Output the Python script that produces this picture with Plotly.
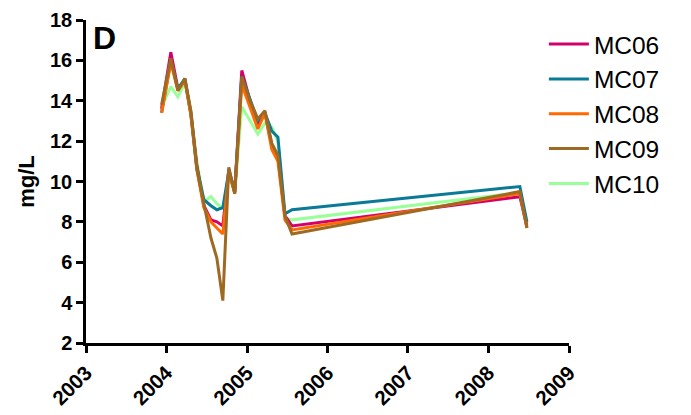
import plotly.graph_objects as go

dates = ["2003-12-10", "2004-01-21", "2004-02-22", "2004-03-25", "2004-04-21", "2004-05-18",
         "2004-06-19", "2004-07-21", "2004-08-17", "2004-09-13", "2004-10-10", "2004-11-06",
         "2004-12-08", "2005-01-14", "2005-02-19", "2005-03-23", "2005-04-23", "2005-05-21",
         "2005-06-22", "2005-07-24", "2008-05-23", "2008-06-24"]

mc06 = [13.6, 16.4, 14.6, 15.0, 13.4, 10.8, 8.8, 8.1, 8.0, 7.8, 10.6, 9.5,
        15.5, 14.0, 12.8, 13.4, 11.8, 11.2, 8.3, 7.8, 9.25, 7.8]
mc07 = [13.4, 16.0, 14.6, 15.1, 13.3, 10.7, 9.1, 8.8, 8.6, 8.7, 10.5, 9.5,
        15.2, 14.1, 13.0, 13.4, 12.5, 12.2, 8.4, 8.6, 9.75, 8.0]
mc08 = [13.4, 15.9, 14.5, 15.0, 13.3, 10.6, 8.7, 8.0, 7.7, 7.4, 10.5, 9.4,
        14.8, 13.7, 12.6, 13.4, 11.6, 11.0, 8.1, 7.6, 9.4, 7.7]
mc09 = [13.8, 16.1, 14.5, 15.1, 13.5, 10.6, 8.9, 7.2, 6.2, 4.1, 10.7, 9.4,
        15.2, 14.0, 13.1, 13.5, 11.9, 11.3, 8.3, 7.4, 9.5, 7.7]
mc10 = [13.7, 14.7, 14.2, 14.9, 13.5, 11.0, 9.0, 9.25, 8.9, 8.65, 10.3, 9.5,
        13.7, 13.0, 12.35, 12.9, 12.7, 12.0, 8.2, 8.1, 9.45, 7.9]

names = ["MC06", "MC07", "MC08", "MC09", "MC10"]
series = [mc06, mc07, mc08, mc09, mc10]
colors = ["#D4006A", "#0A7A96", "#FF6A00", "#9E6A23", "#99FF99"]
draw_order = [4, 0, 1, 2, 3]

x_ticks = ["2003-01-01", "2004-01-01", "2005-01-01", "2006-01-01",
           "2007-01-01", "2008-01-01", "2009-01-01"]
x_labels = ["2003", "2004", "2005", "2006", "2007", "2008", "2009"]
y_ticks = [2, 4, 6, 8, 10, 12, 14, 16, 18]

fig = go.Figure()
for i in draw_order:
    fig.add_trace(go.Scatter(
        x=dates, y=series[i], mode="lines", name=names[i],
        line=dict(color=colors[i], width=3),
        legendrank=i + 1, legendgroup=names[i],
    ))

font_family = "Liberation Sans, Arial, sans-serif"
fig.update_layout(
    width=691, height=415,
    margin=dict(l=78, r=130, t=12, b=80),
    paper_bgcolor="white", plot_bgcolor="white",
    font=dict(family=font_family, color="black"),
    showlegend=True,
    legend=dict(x=0.948, y=0.995, xanchor="left", yanchor="top",
                font=dict(size=24.5, family=font_family, color="black"),
                tracegroupgap=0, traceorder="grouped",
                bgcolor="rgba(0,0,0,0)", itemwidth=40),
    xaxis=dict(type="date", range=["2003-01-01", "2009-01-01"], automargin=False,
               tickmode="array", tickvals=x_ticks, ticktext=x_labels,
               tickangle=-45, showgrid=False, zeroline=False,
               showline=True, linecolor="black", linewidth=2.5,
               ticks="outside", ticklen=7, tickwidth=2.5, tickcolor="black",
               tickfont=dict(size=20.5, family=font_family, weight="bold")),
    yaxis=dict(range=[2, 18], tickmode="array", tickvals=y_ticks, automargin=False,
               showgrid=False, zeroline=False,
               showline=True, linecolor="black", linewidth=2.5,
               ticks="outside", ticklen=7, tickwidth=2.5, tickcolor="black",
               tickfont=dict(size=20, family=font_family, weight="bold"),
               title=dict(text="mg/L", standoff=10,
                          font=dict(size=22, family=font_family, weight="bold"))),
)
fig.add_annotation(text="<b>D</b>", xref="paper", yref="paper", x=0.01, y=1.005,
                   xanchor="left", yanchor="top", showarrow=False,
                   font=dict(size=32, family=font_family, color="black"))

fig.write_html("out.html")
